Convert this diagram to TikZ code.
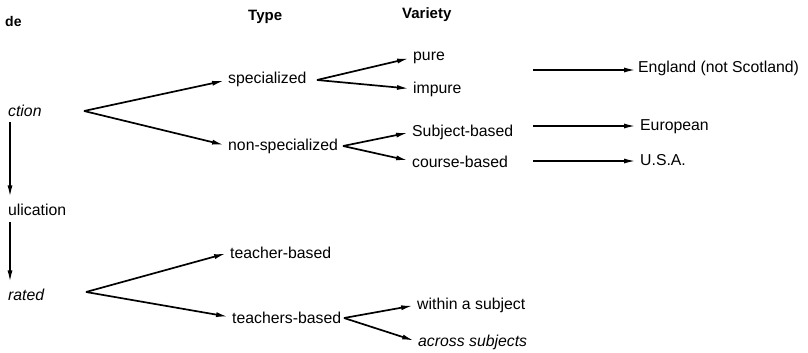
\documentclass[tikz,border=0pt]{standalone}
\usepackage{fontspec}
\setmainfont{Liberation Sans}
\usetikzlibrary{arrows.meta}
\tikzset{arr/.style={black,line width=1.7pt,shorten >=4pt,-{Latex[length=12pt,width=5pt]}}}
\begin{document}
\begin{tikzpicture}[x=1pt,y=1pt]
\tikzstyle{every node}+=[inner sep=0pt,anchor=base west,font=\fontsize{15.8}{18}\selectfont]
\useasboundingbox (0,0) rectangle (808,-353);
\node [font=\bfseries\fontsize{14}{16}\selectfont] (hmode) at (5,-27) {de};
\node [font=\bfseries\fontsize{15}{17}\selectfont] (htype) at (248,-21) {Type};
\node [font=\bfseries\fontsize{15}{17}\selectfont] (hvar) at (402,-19) {Variety};
\node (ction) at (8,-116) {\itshape ction};
\node (ulic) at (8,-215) {ulication};
\node (rated) at (8,-300) {\itshape rated};
\node (spec) at (228,-84) {specialized};
\node (nspec) at (228,-150) {non-specialized};
\node (pure) at (413,-60) {pure};
\node (impure) at (413,-93) {impure};
\node (subj) at (412,-136) {Subject-based};
\node (course) at (412,-167) {course-based};
\node (eng) at (638,-72) {England (not Scotland)};
\node (euro) at (640,-130) {European};
\node (usa) at (640,-165) {U.S.A.};
\node (tbased) at (230,-258) {teacher-based};
\node (tsbased) at (232,-323) {teachers-based};
\node (within) at (417,-309) {within a subject};
\node (across) at (418,-346) {\itshape across subjects};
\coordinate (fction) at (84,-111);
\coordinate (fspec) at (317,-80);
\coordinate (fnspec) at (343,-146);
\coordinate (frated) at (86,-292);
\coordinate (ftsbased) at (344,-318);
\coordinate (seng) at (533,-70);
\coordinate (seuro) at (533,-126);
\coordinate (susa) at (533,-161);
\draw [arr] (fction) -- (spec.west);
\draw [arr] (fction) -- (nspec.west);
\draw [arr] (fspec) -- (pure.west);
\draw [arr] (fspec) -- (impure.west);
\draw [arr] (fnspec) -- (subj.west);
\draw [arr] (fnspec) -- (course.west);
\draw [arr] (frated) -- (tbased.west);
\draw [arr] (frated) -- (tsbased.west);
\draw [arr] (ftsbased) -- (within.west);
\draw [arr] (ftsbased) -- (across.west);
\draw [arr,shorten >=2pt] (seng) -- (seng -| eng.west);
\draw [arr,shorten >=4pt] (seuro) -- (seuro -| euro.west);
\draw [arr,shorten >=4pt] (susa) -- (susa -| usa.west);
\draw [arr,shorten <=6pt,shorten >=6pt] ([xshift=2pt]ction.south west) -- ([xshift=2pt]ulic.north west);
\draw [arr,shorten <=7pt,shorten >=6pt] ([xshift=2pt]ulic.south west) -- ([xshift=2pt]rated.north west);
\end{tikzpicture}
\end{document}
